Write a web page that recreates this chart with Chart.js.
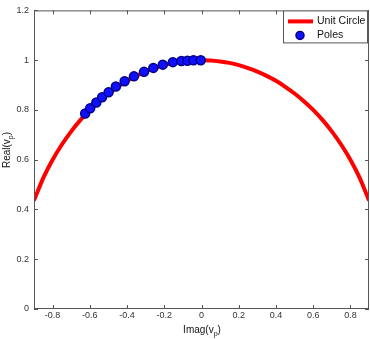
<!DOCTYPE html>
<html>
<head>
<meta charset="utf-8">
<script src="https://cdn.jsdelivr.net/npm/chart.js@4/dist/chart.umd.min.js"></script>
<style>
  html, body { margin: 0; padding: 0; background: #fff; }
  #wrap { width: 370px; height: 339px; }
</style>
</head>
<body>
<div id="wrap"><canvas id="c" width="370" height="339"></canvas></div>
<script>
// unit circle samples (imag, real)
const circleX = [-0.9, -0.85, -0.8, -0.75, -0.7, -0.65, -0.6, -0.55, -0.5, -0.45, -0.4, -0.35, -0.3, -0.25, -0.2, -0.15, -0.1, -0.05, 0,
                 0.05, 0.1, 0.15, 0.2, 0.25, 0.3, 0.35, 0.4, 0.45, 0.5, 0.55, 0.6, 0.65, 0.7, 0.75, 0.8, 0.85, 0.9];
const circleY = [0.436, 0.527, 0.6, 0.661, 0.714, 0.760, 0.8, 0.835, 0.866, 0.893, 0.917, 0.937, 0.954, 0.968, 0.980, 0.989, 0.995, 0.999, 1,
                 0.999, 0.995, 0.989, 0.980, 0.968, 0.954, 0.937, 0.917, 0.893, 0.866, 0.835, 0.8, 0.760, 0.714, 0.661, 0.6, 0.527, 0.436];

// poles
const poleX = [-0.625, -0.598, -0.565, -0.534, -0.499, -0.46, -0.413, -0.363, -0.309, -0.259, -0.208, -0.154, -0.108, -0.076, -0.043, -0.004];
const poleY = [0.786, 0.807, 0.830, 0.851, 0.871, 0.894, 0.915, 0.935, 0.953, 0.969, 0.982, 0.992, 0.997, 0.998, 1.0, 1.0];

const xTicks = [-0.8, -0.6, -0.4, -0.2, 0, 0.2, 0.4, 0.6, 0.8];
const yTicks = [0, 0.2, 0.4, 0.6, 0.8, 1, 1.2];

const tickFont = { family: "'Liberation Sans', Arial, sans-serif", size: 9 };
const fmt = v => String(+Number(v).toFixed(1));
const F = px => px + "px 'Liberation Sans', Arial, sans-serif";

// box, inward ticks, axis titles with subscript, legend inside the plot
const matlabLook = {
    id: 'matlabLook',
    afterDraw(chart) {
        const { ctx, chartArea: a, scales } = chart;
        ctx.save();
        ctx.strokeStyle = '#555';
        ctx.lineWidth = 1;
        ctx.strokeRect(a.left + 0.5, a.top + 0.5, a.right - a.left - 1, a.bottom - a.top - 1);

        ctx.beginPath();
        xTicks.forEach(v => {
            const px = Math.round(scales.x.getPixelForValue(v)) + 0.5;
            ctx.moveTo(px, a.bottom); ctx.lineTo(px, a.bottom - 4);
            ctx.moveTo(px, a.top); ctx.lineTo(px, a.top + 4);
        });
        yTicks.forEach(v => {
            const py = Math.round(scales.y.getPixelForValue(v)) + 0.5;
            ctx.moveTo(a.left, py); ctx.lineTo(a.left + 4, py);
            ctx.moveTo(a.right, py); ctx.lineTo(a.right - 4, py);
        });
        ctx.stroke();

        // axis titles, with a subscript p
        ctx.fillStyle = '#111';
        ctx.textBaseline = 'alphabetic';
        const titleText = (cx, cy, head) => {
            ctx.font = F(10);
            const w0 = ctx.measureText(head + '(v').width;
            ctx.font = F(7);
            const ws = ctx.measureText('p').width;
            ctx.font = F(10);
            const w3 = ctx.measureText(')').width;
            const x = cx - (w0 + ws + w3) / 2;
            ctx.textAlign = 'left';
            ctx.fillText(head + '(v', x, cy);
            ctx.font = F(7);
            ctx.fillText('p', x + w0, cy + 3);
            ctx.font = F(10);
            ctx.fillText(')', x + w0 + ws, cy);
        };
        titleText(202, 333, 'Imag');
        ctx.save();
        ctx.translate(10, 150);
        ctx.rotate(-Math.PI / 2);
        titleText(0, 0, 'Real');
        ctx.restore();

        // legend
        const lx = a.right - 86, ly = a.top, lw = 85, lh = 33;
        ctx.fillStyle = '#fff';
        ctx.fillRect(lx, ly, lw, lh);
        ctx.strokeStyle = '#555';
        ctx.lineWidth = 1;
        ctx.strokeRect(lx + 0.5, ly + 0.5, lw - 1, lh - 1);
        ctx.strokeStyle = '#ff0000';
        ctx.lineWidth = 4;
        ctx.beginPath();
        ctx.moveTo(lx + 5, ly + 11); ctx.lineTo(lx + 30, ly + 11);
        ctx.stroke();
        ctx.fillStyle = '#1010ff';
        ctx.strokeStyle = '#00008b';
        ctx.lineWidth = 1.5;
        ctx.beginPath();
        ctx.arc(lx + 17, ly + 25, 4, 0, Math.PI * 2);
        ctx.fill(); ctx.stroke();
        ctx.fillStyle = '#111';
        ctx.font = F(10.5);
        ctx.textAlign = 'left';
        ctx.textBaseline = 'middle';
        ctx.fillText('Unit Circle', lx + 34, ly + 11);
        ctx.fillText('Poles', lx + 34, ly + 25);
        ctx.restore();
    }
};

new Chart(document.getElementById('c'), {
    type: 'scatter',
    data: {
        datasets: [
            {
                label: 'Poles',
                data: poleX.map((x, i) => ({ x, y: poleY[i] })),
                backgroundColor: '#1010ff',
                borderColor: '#00008b',
                borderWidth: 1.5,
                pointRadius: 4.5,
                order: 0
            },
            {
                label: 'Unit Circle',
                data: circleX.map((x, i) => ({ x, y: circleY[i] })),
                showLine: true,
                borderColor: '#ff0000',
                borderWidth: 4,
                pointRadius: 0,
                tension: 0.3,
                order: 1
            }
        ]
    },
    options: {
        responsive: false,
        animation: false,
        devicePixelRatio: 1,
        layout: { autoPadding: false, padding: { top: 4, right: 1, left: 0, bottom: 0 } },
        plugins: { legend: { display: false }, tooltip: { enabled: false } },
        scales: {
            x: {
                type: 'linear',
                min: -0.9, max: 0.9,
                grid: { display: false, drawTicks: false },
                border: { display: false },
                afterBuildTicks: s => { s.ticks = xTicks.map(v => ({ value: v })); },
                afterFit: s => { s.height = 30; },
                ticks: { font: tickFont, color: '#333', padding: 1, maxRotation: 0, callback: fmt }
            },
            y: {
                min: 0, max: 1.2,
                grid: { display: false, drawTicks: false },
                border: { display: false },
                afterBuildTicks: s => { s.ticks = yTicks.map(v => ({ value: v })); },
                afterFit: s => { s.width = 34; },
                ticks: { font: tickFont, color: '#333', padding: 5, callback: fmt }
            }
        }
    },
    plugins: [matlabLook]
});
</script>
</body>
</html>
